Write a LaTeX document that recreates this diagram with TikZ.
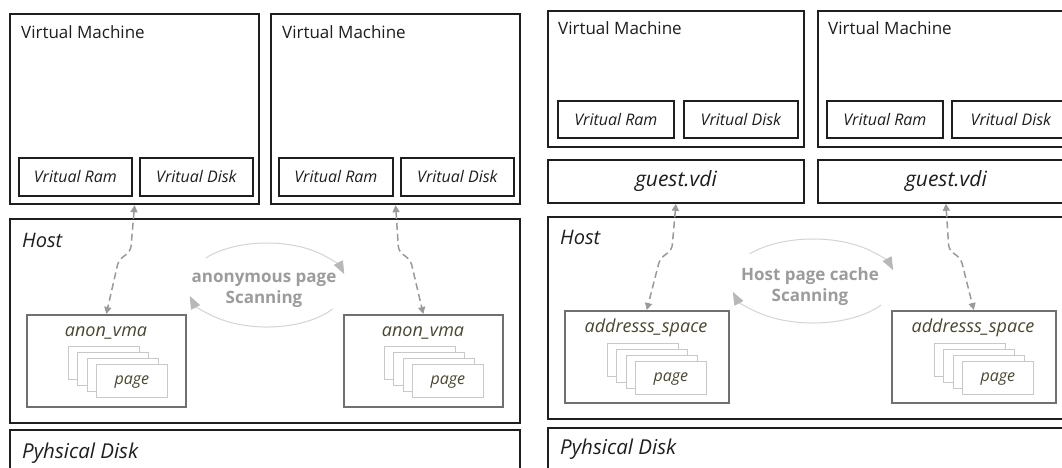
\documentclass[tikz,border=0pt]{standalone}
\usepackage{fontspec}
\setmainfont{Open Sans}
\usetikzlibrary{arrows.meta}

\definecolor{frame}{HTML}{1E1E1E}
\definecolor{subframe}{HTML}{707070}
\definecolor{pageframe}{HTML}{C8C8C8}
\definecolor{olive}{HTML}{4A4630}
\definecolor{linkgray}{HTML}{9A9A9A}
\definecolor{scangray}{HTML}{9C9C9C}
\definecolor{arcgray}{HTML}{D4D4D4}
\definecolor{tipgray}{HTML}{B8B8B8}

\tikzset{
  layer/.style={draw=frame, line width=2.2pt, anchor=north west, inner sep=0pt, fill=white},
  part/.style={draw=frame, line width=1.8pt, anchor=north west, inner sep=0pt,
    font=\itshape\fontsize{16}{18}\selectfont, text=frame},
  vdibox/.style={part, font=\itshape\fontsize{21}{24}\selectfont},
  store/.style={draw=subframe, line width=1.6pt, anchor=north west, inner sep=0pt, fill=white},
  pagecard/.style={draw=pageframe, line width=0.8pt, fill=white, anchor=north west,
    inner sep=0pt, minimum width=71pt, minimum height=33pt},
  title/.style={anchor=west, inner sep=0pt, text=frame, font=\fontsize{17}{20}\selectfont},
  layertitle/.style={anchor=west, inner sep=0pt, text=frame, font=\itshape\fontsize{20}{23}\selectfont},
  disktitle/.style={anchor=west, inner sep=0pt, text=frame, font=\itshape\fontsize{20.5}{24}\selectfont},
  storetitle/.style={inner sep=0pt, text=olive, font=\itshape\fontsize{18}{21}\selectfont},
  pagetitle/.style={inner sep=0pt, text=olive, font=\itshape\fontsize{16}{18}\selectfont},
  scanlabel/.style={inner sep=0pt, align=center, text=scangray,
    font=\bfseries\fontsize{17}{21}\selectfont},
  link/.style={draw=linkgray, line width=1.5pt, dash pattern=on 7pt off 4pt, rounded corners=5pt,
    {Triangle[length=7pt,width=7pt,fill=linkgray]}-{Triangle[length=7pt,width=7pt,fill=linkgray]}},
  scanarc/.style={draw=arcgray, line width=1pt,
    -{Triangle[length=13pt,width=10pt,color=tipgray,fill=tipgray]}},
}

% a stack of four page cards, the front one labelled "page"
\newcommand\pagestack[3]{%
  \foreach \k in {0,1,2,3}{
    \node[pagecard] (#1card\k) at ({#2+9.3*\k},{#3+6*\k}) {};
  }
  \node[pagetitle] (#1page) at ([yshift=-1pt]#1card3.center) {page};
}

\begin{document}
\begin{tikzpicture}[x=1pt,y=-1pt]
\useasboundingbox (0,0) rectangle (1062,468);
\clip (0,0) rectangle (1062,468);

% ---------------- left half: anonymous memory ----------------
\node[layer, minimum width=249pt, minimum height=190pt] (vm1) at (9,13) {};
\node[title] (vm1t) at (21,32) {Virtual Machine};
\node[part, minimum width=113pt, minimum height=38pt] (ram1) at (18,157) {Vritual Ram};
\node[part, minimum width=113pt, minimum height=38pt] (disk1) at (139,157) {Vritual Disk};

\node[layer, minimum width=249pt, minimum height=190pt] (vm2) at (270,13) {};
\node[title] (vm2t) at (282,32) {Virtual Machine};
\node[part, minimum width=114pt, minimum height=38pt] (ram2) at (278,157) {Vritual Ram};
\node[part, minimum width=113pt, minimum height=38pt] (disk2) at (400,157) {Vritual Disk};

\node[layer, minimum width=510pt, minimum height=204pt] (host1) at (9,218) {};
\node[layertitle] (host1t) at (22,240) {Host};

\node[store, minimum width=159pt, minimum height=92pt] (av1) at (26,314) {};
\node[storetitle] (av1t) at (106,333) {anon\_vma};
\pagestack{a}{68}{346}

\node[store, minimum width=159pt, minimum height=92pt] (av2) at (343,314) {};
\node[storetitle] (av2t) at (423,333) {anon\_vma};
\pagestack{b}{384}{346}

\node[layer, minimum width=510pt, minimum height=60pt] (phys1) at (9,429) {};
\node[disktitle] (phys1t) at (22,453) {Pyhsical Disk};

\draw[link] (vm1.south) -- ++(-4,46) -- ++(-12,9) -- (av1.north);
\draw[link] (vm2.south) -- ++(3,46) -- ++(12,9) -- (av2.north);

\node[scanlabel] (scan1) at (264,290) {anonymous page\\Scanning};
\draw[scanarc] (205.7,258.0) arc[start angle=220, end angle=345, x radius=80, y radius=42];
\draw[scanarc] (332.5,309.1) arc[start angle=35, end angle=165, x radius=80, y radius=42];

% ---------------- right half: host page cache ----------------
\node[layer, minimum width=256pt, minimum height=136pt] (vm3) at (547,10) {};
\node[title] (vm3t) at (558,28) {Virtual Machine};
\node[part, minimum width=116pt, minimum height=37pt] (ram3) at (557,100) {Vritual Ram};
\node[part, minimum width=114pt, minimum height=37pt] (disk3) at (683,100) {Vritual Disk};
\node[vdibox, minimum width=256pt, minimum height=43pt] (vdi3) at (547,159) {guest.vdi};

\node[layer, minimum width=256pt, minimum height=136pt] (vm4) at (817,10) {};
\node[title] (vm4t) at (828,28) {Virtual Machine};
\node[part, minimum width=116pt, minimum height=37pt] (ram4) at (826,100) {Vritual Ram};
\node[part, minimum width=118pt, minimum height=37pt] (disk4) at (951,100) {Vritual Disk};
\node[vdibox, minimum width=256pt, minimum height=43pt] (vdi4) at (817,159) {guest.vdi};

\node[layer, minimum width=530pt, minimum height=202pt] (host2) at (547,216) {};
\node[layertitle] (host2t) at (560,237) {Host};

\node[store, minimum width=164pt, minimum height=92pt] (as1) at (564,310) {};
\node[storetitle] (as1t) at (646,328) {addresss\_space};
\pagestack{c}{607}{343}

\node[store, minimum width=164pt, minimum height=92pt] (as2) at (891,310) {};
\node[storetitle] (as2t) at (973,328) {addresss\_space};
\pagestack{d}{934}{343}

\node[layer, minimum width=530pt, minimum height=60pt] (phys2) at (547,427) {};
\node[disktitle] (phys2t) at (560,449) {Pyhsical Disk};

\draw[link] (vdi3.south) -- ++(-4,46) -- ++(-12,9) -- (as1.north);
\draw[link] (vdi4.south) -- ++(3,46) -- ++(12,9) -- (as2.north);

\node[scanlabel] (scan2) at (810,287) {Host page cache\\Scanning};
\draw[scanarc] (749.4,254.0) arc[start angle=220, end angle=345, x radius=83, y radius=42];
\draw[scanarc] (881.0,305.1) arc[start angle=35, end angle=165, x radius=83, y radius=42];
\end{tikzpicture}
\end{document}
